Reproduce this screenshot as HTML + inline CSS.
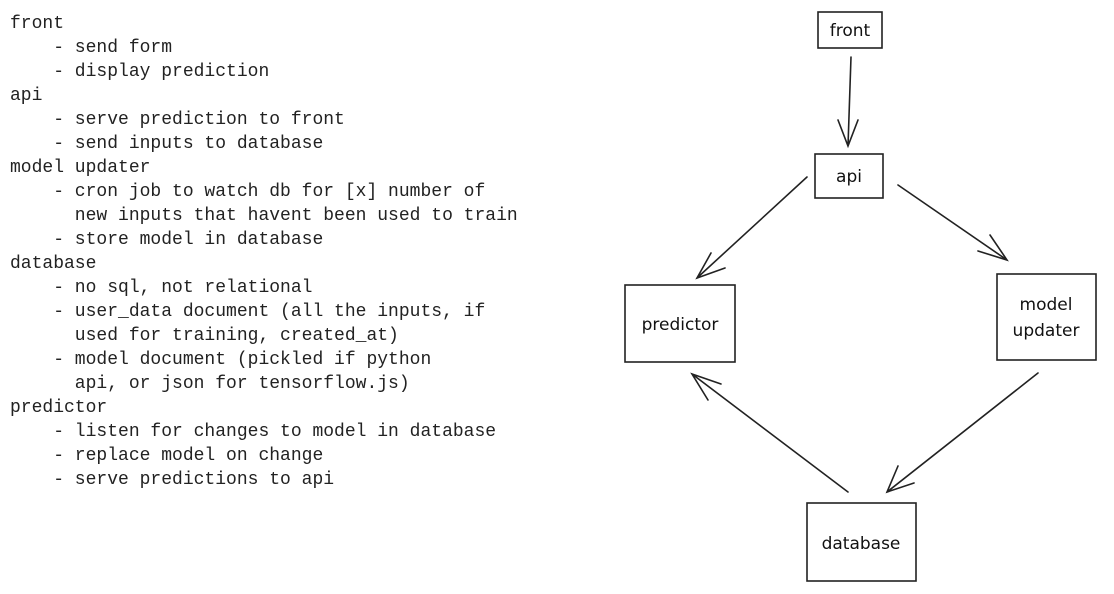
<!DOCTYPE html>
<html><head><meta charset="utf-8"><style>
html,body{margin:0;padding:0;background:#fff;width:1114px;height:594px;overflow:hidden}
pre{position:absolute;left:10px;top:12px;margin:0;font-family:"Liberation Mono",monospace;font-size:18px;line-height:24px;color:#222}
svg{position:absolute;left:0;top:0}
text{font-family:"Comic Sans MS","DejaVu Sans",sans-serif;font-size:17px;fill:#111}
</style></head><body>
<pre>front
    - send form
    - display prediction
api
    - serve prediction to front
    - send inputs to database
model updater
    - cron job to watch db for [x] number of
      new inputs that havent been used to train
    - store model in database
database
    - no sql, not relational
    - user_data document (all the inputs, if
      used for training, created_at)
    - model document (pickled if python
      api, or json for tensorflow.js)
predictor
    - listen for changes to model in database
    - replace model on change
    - serve predictions to api</pre>
<svg width="1114" height="594" viewBox="0 0 1114 594" fill="none" stroke="#222" stroke-width="1.6" stroke-linecap="round">
<rect x="818" y="12" width="64" height="36"/>
<rect x="815" y="154" width="68" height="44"/>
<rect x="625" y="285" width="110" height="77"/>
<rect x="997" y="274" width="99" height="86"/>
<rect x="807" y="503" width="109" height="78"/>
<path d="M851 57 L848 146 M838 120 L848 146 L858 120"/>
<path d="M807 177 L697 278 M711 253 L697 278 L725 268"/>
<path d="M898 185 L1007 260 M990 235 L1007 260 L978 251"/>
<path d="M1038 373 L887 492 M898 466 L887 492 L914 483"/>
<path d="M848 492 L692 374 M721 384 L692 374 L708 400"/>
<g stroke="none">
<text x="850" y="36" text-anchor="middle">front</text>
<text x="849" y="182" text-anchor="middle">api</text>
<text x="680" y="330" text-anchor="middle">predictor</text>
<text x="1046" y="310" text-anchor="middle">model</text>
<text x="1046" y="336" text-anchor="middle">updater</text>
<text x="861" y="549" text-anchor="middle">database</text>
</g>
</svg>
</body></html>
